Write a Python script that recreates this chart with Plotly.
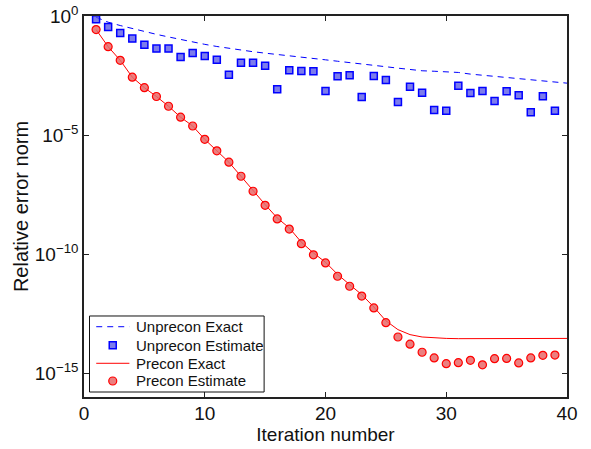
import plotly.graph_objects as go

# Iterations
iters_exact = list(range(1, 41))
iters_est = list(range(1, 40))

# log10 of relative error norm
unprecon_exact_log = [-0.05, -0.26, -0.40, -0.53, -0.65, -0.77, -0.88, -0.99, -1.09, -1.19,
                      -1.28, -1.36, -1.43, -1.50, -1.56, -1.61, -1.66, -1.71, -1.76, -1.84,
                      -1.90, -1.95, -2.01, -2.07, -2.13, -2.19, -2.25, -2.30, -2.32, -2.34,
                      -2.37, -2.44, -2.49, -2.54, -2.59, -2.64, -2.70, -2.75, -2.79, -2.82]
unprecon_est_log = [-0.14, -0.46, -0.71, -0.95, -1.21, -1.37, -1.37, -1.72, -1.55, -1.68,
                    -1.84, -2.47, -1.96, -1.96, -2.09, -3.08, -2.28, -2.31, -2.32, -3.15,
                    -2.53, -2.49, -3.40, -2.52, -2.69, -3.61, -2.97, -3.22, -3.95, -3.98,
                    -2.93, -3.23, -3.15, -3.57, -3.16, -3.33, -4.04, -3.37, -3.98]
precon_exact_log = [-0.57, -1.29, -1.86, -2.57, -3.01, -3.38, -3.79, -4.25, -4.62, -5.18,
                    -5.66, -6.14, -6.73, -7.33, -7.92, -8.48, -8.90, -9.50, -9.95, -10.34,
                    -10.85, -11.28, -11.70, -12.22, -12.80, -13.17, -13.38, -13.48, -13.52, -13.54,
                    -13.55, -13.55, -13.55, -13.55, -13.55, -13.54, -13.54, -13.54, -13.54, -13.54]
precon_est_log = [-0.57, -1.29, -1.86, -2.57, -3.01, -3.38, -3.79, -4.25, -4.62, -5.18,
                  -5.66, -6.14, -6.73, -7.36, -7.95, -8.52, -8.95, -9.56, -10.03, -10.37,
                  -10.93, -11.35, -11.76, -12.26, -12.88, -13.48, -13.78, -14.12, -14.36, -14.60,
                  -14.56, -14.46, -14.65, -14.39, -14.38, -14.57, -14.36, -14.25, -14.24]

series_names = ["Unprecon Exact", "Unprecon Estimate", "Precon Exact", "Precon Estimate"]
x_ticks = [0, 10, 20, 30, 40]
y_tick_exps = [0, -5, -10, -15]

unprecon_exact = [10 ** v for v in unprecon_exact_log]
unprecon_est = [10 ** v for v in unprecon_est_log]
precon_exact = [10 ** v for v in precon_exact_log]
precon_est = [10 ** v for v in precon_est_log]

FONT = "Liberation Sans, Arial, Helvetica, sans-serif"
TXT = "#111111"
BLUE = "#0000ff"
RED = "#ff0000"
SQ_FILL = "rgba(80,80,230,0.75)"
CI_FILL = "rgba(232,105,105,0.85)"
DASH = "6px,5px"

fig = go.Figure()
fig.add_trace(go.Scatter(x=iters_exact, y=unprecon_exact, mode="lines", name=series_names[0],
                         line=dict(color=BLUE, width=1, dash=DASH)))
fig.add_trace(go.Scatter(x=iters_est, y=unprecon_est, mode="markers", name=series_names[1],
                         marker=dict(symbol="square", size=7, color=SQ_FILL,
                                     line=dict(color=BLUE, width=1.5))))
fig.add_trace(go.Scatter(x=iters_exact, y=precon_exact, mode="lines", name=series_names[2],
                         line=dict(color=RED, width=1)))
fig.add_trace(go.Scatter(x=iters_est, y=precon_est, mode="markers", name=series_names[3],
                         marker=dict(symbol="circle", size=8, color=CI_FILL,
                                     line=dict(color=RED, width=1.2))))

# ---- legend box (MATLAB style, compact) in plot-area (paper) coordinates ----
box = dict(x0=0.0114, x1=0.3729, y0=0.0131, y1=0.2126)
row_y = [0.1845, 0.1357, 0.0885, 0.0420]
sample_x0, sample_x1, sample_xc, text_x = 0.0253, 0.0940, 0.0595, 0.1043

shapes = [dict(type="rect", xref="paper", yref="paper", **box,
               line=dict(color="#111111", width=1), fillcolor="white", layer="above")]
shapes.append(dict(type="line", xref="paper", yref="paper", x0=sample_x0, x1=sample_x1,
                   y0=row_y[0], y1=row_y[0], line=dict(color=BLUE, width=1, dash=DASH), layer="above"))
shapes.append(dict(type="line", xref="paper", yref="paper", x0=sample_x0, x1=sample_x1,
                   y0=row_y[2], y1=row_y[2], line=dict(color=RED, width=1), layer="above"))
shapes.append(dict(type="rect", xref="paper", yref="paper", xsizemode="pixel", ysizemode="pixel",
                   xanchor=sample_xc, yanchor=row_y[1], x0=-3.5, x1=3.5, y0=-3.5, y1=3.5,
                   fillcolor=SQ_FILL, line=dict(color=BLUE, width=1.5), layer="above"))
shapes.append(dict(type="circle", xref="paper", yref="paper", xsizemode="pixel", ysizemode="pixel",
                   xanchor=sample_xc, yanchor=row_y[3], x0=-4, x1=4, y0=-4, y1=4,
                   fillcolor=CI_FILL, line=dict(color=RED, width=1.2), layer="above"))

annotations = [dict(xref="paper", yref="paper", x=text_x, y=yy, text=nm, showarrow=False,
                    xanchor="left", yanchor="middle",
                    font=dict(family=FONT, size=15, color=TXT))
               for nm, yy in zip(series_names, row_y)]

fig.update_layout(
    width=591, height=449,
    margin=dict(l=84, r=24, t=16, b=52),
    paper_bgcolor="white", plot_bgcolor="white",
    font=dict(family=FONT, size=19, color=TXT),
    showlegend=False,
    shapes=shapes,
    annotations=annotations,
    xaxis=dict(range=[0, 40], tickvals=x_ticks, ticks="inside", ticklen=5,
               tickcolor="#222", showline=True, linecolor="#222", linewidth=1.5,
               mirror="ticks", showgrid=False, zeroline=False, automargin=False,
               ticklabelstandoff=-2,
               title=dict(text="Iteration number", standoff=0,
                          font=dict(size=19, family=FONT, color=TXT)),
               tickfont=dict(size=19)),
    yaxis=dict(type="log", range=[-16, 0],
               tickvals=[10 ** e for e in y_tick_exps],
               ticktext=["10<sup>%s</sup>" % (str(e).replace("-", "\u2212")) for e in y_tick_exps],
               ticks="inside", ticklen=5, tickcolor="#222",
               showline=True, linecolor="#222", linewidth=1.5, mirror="ticks",
               showgrid=False, zeroline=False, automargin=False,
               title=dict(text="Relative error norm", standoff=1,
                          font=dict(size=20, family=FONT, color=TXT)),
               tickfont=dict(size=19)),
)

fig.write_html("out.html", config={"displayModeBar": False},
               post_script="document.body.style.margin='0';document.body.style.overflow='hidden';")
